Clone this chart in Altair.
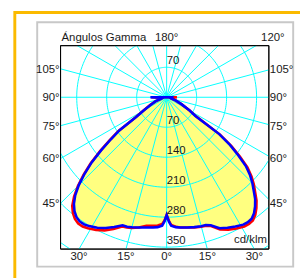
import altair as alt
import pandas as pd
import numpy as np

# ---------------- data ----------------
gamma_deg = [-180, -90, -85, -80, -75, -70, -65, -60, -57, -55, -53, -51, -49, -47, -45,
             -43, -41, -39, -37, -35, -33, -31, -28, -25, -22, -19, -17, -15, -12, -9,
             -6, -4, -2, -1, 0, 1, 2, 4, 6, 9, 12, 15, 17, 19, 22, 25, 28, 31, 33, 35,
             37, 39, 41, 43, 45, 47, 49, 51, 53, 55, 57, 60, 65, 70, 75, 80, 85, 90, 180]

blue_c90 = [0, 38, 12, 10, 14, 27, 40, 62, 85, 135, 163, 197, 232, 262, 290,
            313, 330, 342, 350, 354, 354, 351, 345, 337, 327, 316, 316, 314, 311, 308,
            306, 304, 300, 290, 275, 290, 300, 304, 306, 308, 310, 312, 312, 316, 330, 336, 342, 347, 348, 346,
            339, 328, 315, 298, 283, 266, 245, 215, 185, 150, 80, 62, 38, 22, 12, 9, 10, 16, 0]

red_c0 = [0, 36, 12, 10, 14, 28, 42, 64, 88, 138, 167, 200, 235, 265, 293,
          317, 336, 348, 356, 360, 360, 357, 351, 343, 332, 319, 318, 316, 311, 304,
          302, 300, 296, 288, 275, 288, 298, 303, 306, 308, 311, 313, 314, 318, 333, 341, 347, 352, 353, 351,
          344, 333, 320, 303, 288, 271, 250, 220, 190, 152, 82, 62, 38, 22, 12, 9, 12, 24, 0]

ring_values = [70, 140, 210, 280, 350, 420]
ring_labels = ["70", "70", "140", "210", "280", "350"]
ring_label_pos = [70, -70, -140, -210, -280, -350]
side_angles = [105, 90, 75, 60, 45]
side_labels = ["105°", "90°", "75°", "60°", "45°"]
bottom_angles = [-30, -15, 0, 15, 30]
bottom_labels = ["30°", "15°", "0°", "15°", "30°"]
spoke_step = 15

# ---------------- geometry of the plot frame ----------------
W, H = 214, 209          # plot frame
K = 0.44                 # px per cd/klm
CX, CY = 109, 53         # centre of the diagram in the frame
XMIN, XMAX = -CX / K, (W - CX) / K
YMAX, YMIN = CY / K, -(H - CY) / K

xs = alt.Scale(domain=[XMIN, XMAX], nice=False, zero=False)
ys = alt.Scale(domain=[YMIN, YMAX], nice=False, zero=False)

FONT = "Liberation Sans"
FS = 11.7
TXT = "#1a1a1a"


def polar_df(gam, val):
    g = np.radians(np.array(gam, dtype=float))
    v = np.array(val, dtype=float)
    return pd.DataFrame({"x": v * np.sin(g), "y": -v * np.cos(g), "i": np.arange(len(v))})


blue_df = polar_df(gamma_deg, blue_c90)
red_df = polar_df(gamma_deg, red_c0)

# grid rings
rows = []
for r in ring_values:
    for a in range(0, 361, 2):
        t = np.radians(a)
        rows.append({"r": r, "x": r * np.sin(t), "y": -r * np.cos(t), "i": a})
rings_df = pd.DataFrame(rows)

# spokes
sp = []
for a in range(0, 360, spoke_step):
    t = np.radians(a)
    sp.append({"x": 0.0, "y": 0.0, "x2": 700 * np.sin(t), "y2": -700 * np.cos(t)})
spokes_df = pd.DataFrame(sp)

X = lambda: alt.X("x:Q", scale=xs, axis=None)
Y = lambda: alt.Y("y:Q", scale=ys, axis=None)

one = pd.DataFrame({"a": [0]})

grey_box = alt.Chart(one).mark_rect(fill="white", stroke="#c8c8c8", strokeWidth=2).encode(
    x=alt.value(-24), x2=alt.value(239), y=alt.value(-24), y2=alt.value(227))
orange_box = alt.Chart(one).mark_rect(fill=None if False else "transparent", stroke="#FBBA00", strokeWidth=3).encode(
    x=alt.value(-47), x2=alt.value(400), y=alt.value(-34), y2=alt.value(400))
frame_bg = alt.Chart(one).mark_rect(fill="white", stroke="black", strokeWidth=1).encode(
    x=alt.value(0), x2=alt.value(W), y=alt.value(0), y2=alt.value(H))

fill = alt.Chart(blue_df).mark_line(fill="#FFFF80", strokeWidth=0, clip=True).encode(
    x=X(), y=Y(), order="i:Q")

rings = alt.Chart(rings_df).mark_line(color="#00FFFF", strokeWidth=1, clip=True).encode(
    x=X(), y=Y(), detail="r:N", order="i:Q")

spokes = alt.Chart(spokes_df).mark_rule(color="#00FFFF", strokeWidth=1, clip=True).encode(
    x=X(), y=Y(), x2="x2:Q", y2="y2:Q")

red = alt.Chart(red_df).mark_line(color="#FF0000", strokeWidth=2.6, clip=True).encode(
    x=X(), y=Y(), order="i:Q")
blue = alt.Chart(blue_df).mark_line(color="#0000FF", strokeWidth=2.6, clip=True).encode(
    x=X(), y=Y(), order="i:Q")

frame_line = alt.Chart(one).mark_rect(fill="transparent", stroke="black", strokeWidth=1).encode(
    x=alt.value(0), x2=alt.value(W), y=alt.value(0), y2=alt.value(H))

ring_txt = alt.Chart(pd.DataFrame({"t": ring_labels, "y": ring_label_pos, "x": [0] * len(ring_labels)})).mark_text(
    align="left", baseline="alphabetic", dy=-3, font=FONT, fontSize=FS, color=TXT).encode(
    x=X(), y=Y(), text="t:N")

sa = np.radians(np.array(side_angles, dtype=float))
side_y = -(-XMIN) * np.cos(sa) / np.sin(sa)
side_df = pd.DataFrame({"t": side_labels, "y": side_y})
left_txt = alt.Chart(side_df).mark_text(align="right", baseline="middle", font=FONT, fontSize=FS, color=TXT).encode(
    x=alt.value(-1), y=Y(), text="t:N")
right_txt = alt.Chart(side_df).mark_text(align="left", baseline="middle", font=FONT, fontSize=FS, color=TXT).encode(
    x=alt.value(215), y=Y(), text="t:N")

ba = np.radians(np.array(bottom_angles, dtype=float))
bx = np.clip((-YMIN) * np.tan(ba), XMIN + 20, XMAX - 20)
bottom_txt = alt.Chart(pd.DataFrame({"t": bottom_labels, "x": bx})).mark_text(
    align="center", baseline="middle", font=FONT, fontSize=FS, color=TXT).encode(
    x=X(), y=alt.value(216), text="t:N")

top_title = alt.Chart(pd.DataFrame({"t": ["Ángulos Gamma"]})).mark_text(
    align="left", baseline="middle", font=FONT, fontSize=FS, color=TXT).encode(
    x=alt.value(1), y=alt.value(-9), text="t:N")
top_180 = alt.Chart(pd.DataFrame({"t": ["180°"], "x": [0.0]})).mark_text(
    align="center", baseline="middle", font=FONT, fontSize=FS, color=TXT).encode(
    x=X(), y=alt.value(-9), text="t:N")
top_120 = alt.Chart(pd.DataFrame({"t": ["120°"]})).mark_text(
    align="left", baseline="middle", font=FONT, fontSize=FS, color=TXT).encode(
    x=alt.value(206), y=alt.value(-9), text="t:N")
unit_txt = alt.Chart(pd.DataFrame({"t": ["cd/klm"]})).mark_text(
    align="right", baseline="middle", font=FONT, fontSize=FS, color=TXT).encode(
    x=alt.value(212), y=alt.value(199), text="t:N")

chart = alt.layer(
    orange_box, grey_box, frame_bg, fill, rings, spokes, red, blue, frame_line,
    ring_txt, left_txt, right_txt, bottom_txt, top_title, top_180, top_120, unit_txt
).properties(
    width=W, height=H, autosize=alt.AutoSizeParams(type="none"),
    padding={"left": 54, "top": 35, "right": 32, "bottom": 26}, background="white"
).configure_view(stroke=None if False else "transparent")

chart.save("out.html", embed_options={"renderer": "svg", "actions": False})
